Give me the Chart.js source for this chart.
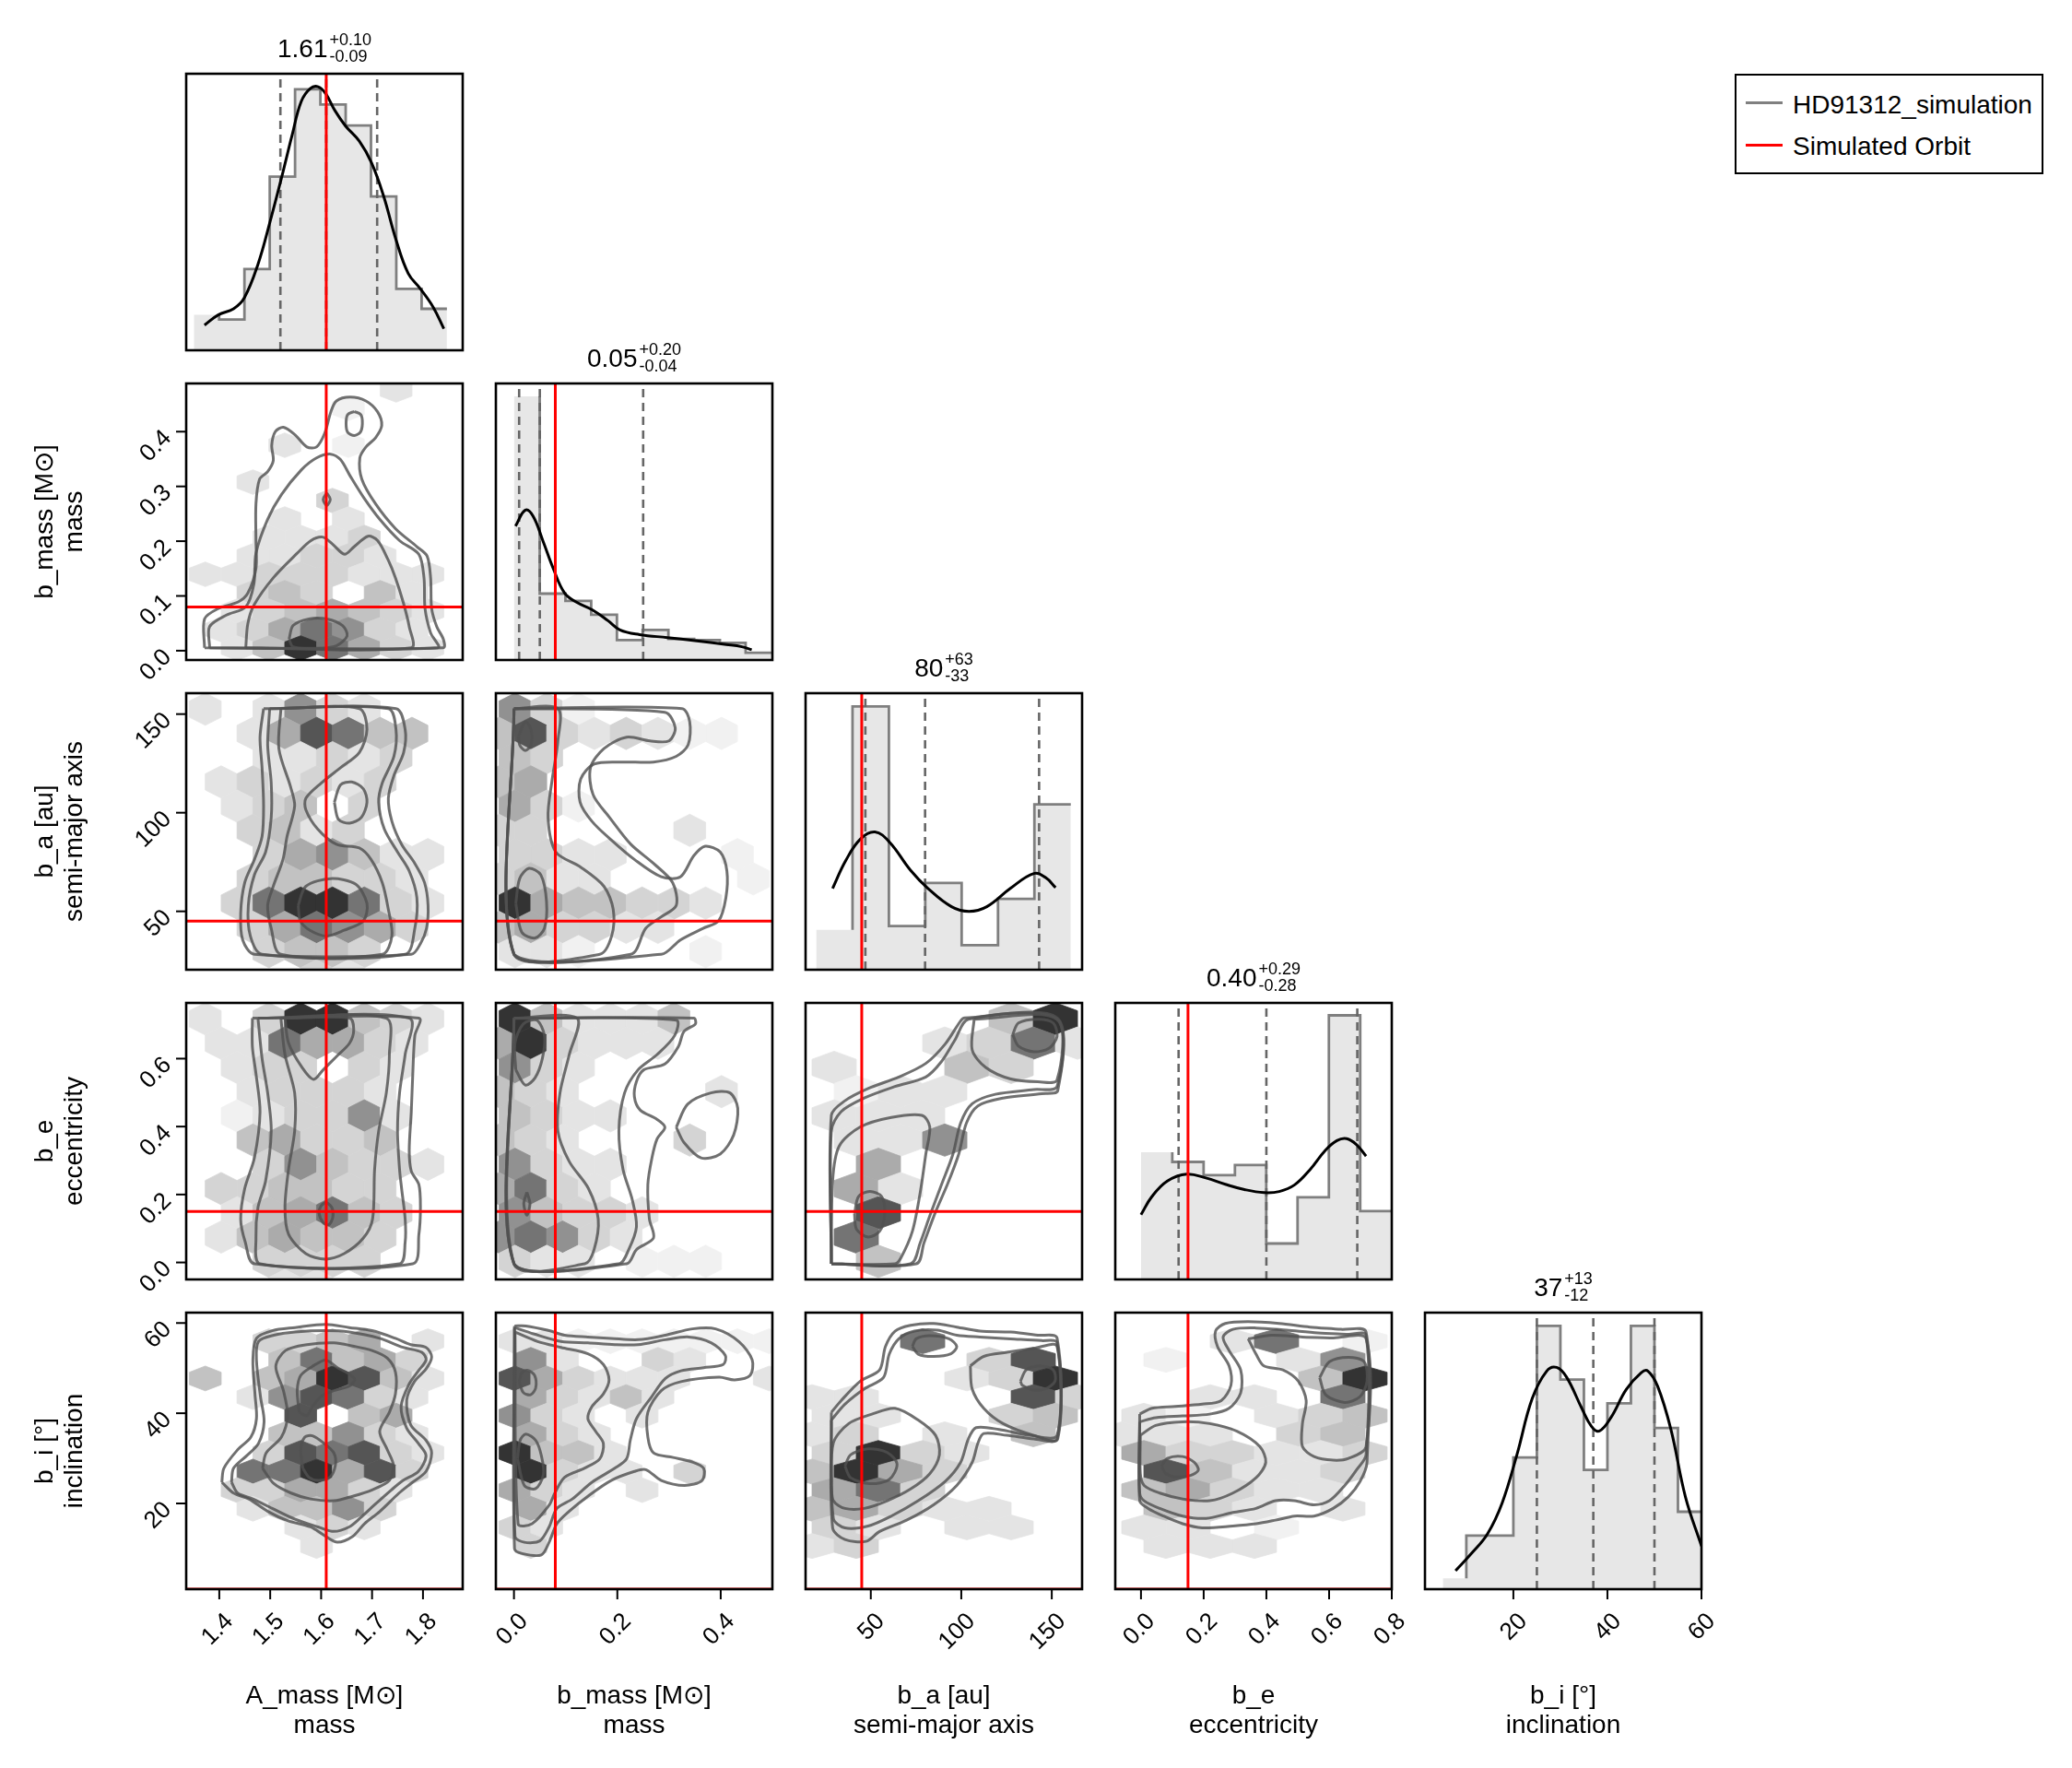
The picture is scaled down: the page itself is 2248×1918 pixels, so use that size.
<!DOCTYPE html>
<html>
<head>
<meta charset="utf-8">
<script src="https://cdn.jsdelivr.net/npm/chart.js@4.4.0/dist/chart.umd.min.js"></script>
<style>
  body { margin: 0; background: #fff; width: 2248px; height: 1918px; position: relative; overflow: hidden;
         font-family: "Liberation Sans", Arial, Helvetica, sans-serif; }
  canvas { position: absolute; }
  #legend { position: absolute; left: 1882px; top: 80px; width: 335px; height: 109px; box-sizing: border-box;
            border: 2px solid #000; background: #fff; }
  #legend .sw { position: absolute; left: 10px; width: 40px; height: 3px; }
  #legend .tx { position: absolute; left: 61px; font-size: 28px; line-height: 34px; white-space: nowrap; color: #000; }
</style>
</head>
<body>
<div id="legend">
  <div class="sw" style="top:28px;background:#808080"></div><div class="tx" style="top:15px">HD91312_simulation</div>
  <div class="sw" style="top:74px;background:#ff0000"></div><div class="tx" style="top:60px">Simulated Orbit</div>
</div>
<script>
// ---- data ----
const labelNames = ['A_mass [M⊙]', 'b_mass [M⊙]', 'b_a [au]', 'b_e', 'b_i [°]']
const labelDescs = ['mass', 'mass', 'semi-major axis', 'eccentricity', 'inclination']

const xRanges = [[1.335, 1.878], [-0.035, 0.5], [13.96, 166.75], [-0.082, 0.8], [1.2, 60]]
const yRanges = [null, [-0.017, 0.488], [20.4, 160.6], [-0.05, 0.764], [1.0, 62.3]]

const xTicks = [[1.4, 1.5, 1.6, 1.7, 1.8], [0, 0.2, 0.4], [50, 100, 150], [0, 0.2, 0.4, 0.6, 0.8], [20, 40, 60]]
const xTickLabels = [['1.4', '1.5', '1.6', '1.7', '1.8'], ['0.0', '0.2', '0.4'], ['50', '100', '150'],
                     ['0.0', '0.2', '0.4', '0.6', '0.8'], ['20', '40', '60']]
const yTicks = [[], [0, 0.1, 0.2, 0.3, 0.4], [50, 100, 150], [0, 0.2, 0.4, 0.6], [20, 40, 60]]
const yTickLabels = [[], ['0.0', '0.1', '0.2', '0.3', '0.4'], ['50', '100', '150'], ['0.0', '0.2', '0.4', '0.6'], ['20', '40', '60']]

const truths = [1.61, 0.08, 45, 0.15, 1.0]
const quantiles = [[1.52, 1.61, 1.71], [0.01, 0.05, 0.25], [47, 80, 143], [0.12, 0.40, 0.69], [25, 37, 50]]
const titleMain = ['1.61', '0.05', '80', '0.40', '37']
const titleUp = ['+0.10', '+0.20', '+63', '+0.29', '+13']
const titleDown = ['-0.09', '-0.04', '-33', '-0.28', '-12']

// histograms (bin start, bin width, heights as fraction of the panel)
const histStart = [1.350, 0.0, 19.8, 0.0, 5]
const histWidth = [0.0497, 0.0498, 20.1, 0.0999, 5]
const histAmass = [0.128, 0.111, 0.294, 0.628, 0.944, 0.889, 0.813, 0.556, 0.222, 0.150]
const histBmass = [0.953, 0.240, 0.214, 0.164, 0.072, 0.109, 0.076, 0.072, 0.062, 0.026]
const histBa = [0.144, 0.952, 0.158, 0.314, 0.089, 0.256, 0.598]
const histBe = [0.460, 0.425, 0.377, 0.414, 0.130, 0.297, 0.955, 0.247]
const histBi = [0.039, 0.194, 0.194, 0.476, 0.952, 0.758, 0.431, 0.672, 0.952, 0.583, 0.280]

const kdeAmass = [[1.371,0.091],[1.398,0.128],[1.428,0.150],[1.449,0.189],[1.476,0.311],[1.500,0.467],[1.522,0.622],
  [1.543,0.778],[1.561,0.900],[1.579,0.947],[1.594,0.953],[1.609,0.928],[1.627,0.867],[1.648,0.811],[1.675,0.756],
  [1.699,0.678],[1.723,0.556],[1.747,0.400],[1.771,0.278],[1.795,0.222],[1.820,0.156],[1.841,0.078]]
const kdeBmass = [[0.003,0.484],[0.022,0.542],[0.037,0.520],[0.056,0.431],[0.076,0.331],[0.098,0.242],[0.121,0.209],
  [0.152,0.181],[0.182,0.142],[0.205,0.109],[0.243,0.092],[0.297,0.081],[0.350,0.070],[0.411,0.056],[0.441,0.048],[0.460,0.037]]
const kdeBa = [[28.9,0.294],[36.1,0.394],[44.2,0.472],[52.3,0.498],[60.4,0.461],[71.8,0.361],[81.6,0.294],[94.6,0.228],
  [104.3,0.211],[114.1,0.228],[127.1,0.294],[140.1,0.348],[146.6,0.333],[152.1,0.297]]
const kdeBe = [[0.000,0.234],[0.035,0.300],[0.084,0.356],[0.146,0.381],[0.207,0.367],[0.269,0.344],[0.330,0.325],
  [0.392,0.314],[0.441,0.318],[0.490,0.342],[0.539,0.397],[0.588,0.467],[0.625,0.502],[0.656,0.509],[0.687,0.488],[0.718,0.446]]
const kdeBi = [[7.7,0.067],[11.3,0.133],[14.5,0.200],[17.6,0.311],[20.8,0.489],[24.0,0.689],[27.1,0.789],[29.2,0.802],
  [31.3,0.767],[34.5,0.656],[36.6,0.589],[38.3,0.572],[40.8,0.622],[44.0,0.722],[47.2,0.783],[48.6,0.789],[50.7,0.733],
  [53.5,0.578],[56.6,0.333],[60.0,0.156]]

// hexbin counts (0-9 shade level, '.' empty); even rows start at xEven, odd rows at xOdd
const hex_1_0 = { xEven: 1.3725, xOdd: 1.3412, dx: 0.06245, y0: 0.4762, dy: 0.03367, rows: [
  '......2..', '.....1....', '.........', '...2.1....', '.........', '..2.......', '....3....', '...2.2....',
  '..2223...', '..22332...', '22333222.', '..343.42..', '.2345432.', '.2357632..', '.2497532.'] }
const hex_2_0 = { xEven: 1.3725, xOdd: 1.3412, dx: 0.06245, y0: 152.5, dy: 12.29, rows: [
  '2.2632...', '..258744..', '..22323..', '.232323...', '.234.3...', '..3423....', '..356422.', '..344332..',
  '.3799732.', '..357653..', '..3443...', '....32....'] }
const hex_2_1 = { xEven: 0.0019, xOdd: -0.0289, dx: 0.0615, y0: 152.5, dy: 12.29, rows: [
  '631......', '48323211..', '43.......', '45........', '531......', '33....2...', '3322...1.', '3422....1.',
  '9544332..', '453322....', '221...1..'] }
const hex_3_0 = { xEven: 1.3725, xOdd: 1.3412, dx: 0.06245, y0: 0.717, dy: 0.07136, rows: [
  '2.399432.', '.2275532..', '.233.32..', '..23332...', '.123362..', '..45334...', '..364332.', '.334433...',
  '.245743..', '.245443...', '..3333...', '...22.....'] }
const hex_3_1 = { xEven: 0.0019, xOdd: -0.0289, dx: 0.0615, y0: 0.717, dy: 0.07136, rows: [
  '942224...', '593222....', '632......', '432....2..', '4322.....', '432...3...', '6322.....', '5732......',
  '64332....', '67632.....', '322.111..'] }
const hex_3_2 = { xEven: 29.75, xOdd: 17.53, dx: 24.45, y0: 0.717, dy: 0.07136, rows: [
  '....49', '...2372', '2..43.', '.122...', '222...', '.226...', '.5....', '.52....', '.8....', '.7.....', '.4....'] }
const hex_4_0 = { xEven: 1.3412, xOdd: 1.3725, dx: 0.06245, y0: 60.09, dy: 4.127, rows: [
  '..........', '..3345.2.', '...47453..', '4.459842.', '..268732..', '...8.45..', '...44632..', '..387832.',
  '..779583..', '.335532..', '..24463...', '...232...', '....2.....'] }
const hex_4_1 = { xEven: -0.0289, xOdd: 0.0019, dx: 0.0615, y0: 60.09, dy: 4.127, rows: [
  '..........', '221111111', '.62..32...', '853222..2', '.53242....', '632.2....', '.532......', '9442.....',
  '.9322.3...', '532.2....', '.52.......', '32.......', '.3........'] }
const hex_4_2 = { xEven: 17.53, xOdd: 29.75, dx: 24.45, y0: 60.09, dy: 4.127, rows: [
  '.......', '..7...', '....38.', '...239', '22...83', '22..34', '23.2.4.', '3932..', '4953...', '573...',
  '45322..', '32.22.', '23.....'] }
const hex_4_3 = { xEven: -0.0614, xOdd: 0.0091, dx: 0.1411, y0: 60.09, dy: 4.127, rows: [
  '.......', '..27.1', '.1..26.', '....49', '..22.7.', '21.234', '222.34.', '533223', '.84223.', '45322.',
  '.432.2.', '22.1..', '.222...'] }

// density contours (closed loops, data units)
const contours_1_0 = [
  [[1.371,0.0055],[1.371,0.058],[1.398,0.077],[1.437,0.089],[1.456,0.105],[1.472,0.150],[1.472,0.201],[1.472,0.268],
   [1.479,0.313],[1.495,0.327],[1.506,0.347],[1.503,0.375],[1.510,0.400],[1.526,0.408],[1.549,0.394],[1.572,0.372],
   [1.591,0.372],[1.607,0.397],[1.619,0.436],[1.630,0.456],[1.657,0.463],[1.688,0.456],[1.711,0.436],[1.719,0.411],
   [1.707,0.389],[1.688,0.372],[1.676,0.352],[1.680,0.313],[1.707,0.268],[1.746,0.223],[1.788,0.190],[1.808,0.173],
   [1.815,0.133],[1.817,0.077],[1.827,0.044],[1.840,0.021],[1.840,0.0055]],
  [[1.381,0.0055],[1.381,0.044],[1.414,0.065],[1.452,0.080],[1.468,0.122],[1.472,0.178],[1.495,0.240],[1.522,0.285],
   [1.561,0.330],[1.591,0.352],[1.619,0.359],[1.638,0.349],[1.657,0.319],[1.684,0.279],[1.715,0.240],[1.754,0.201],
   [1.792,0.176],[1.802,0.133],[1.804,0.077],[1.815,0.0325],[1.829,0.0055]],
  [[1.452,0.0055],[1.456,0.049],[1.468,0.083],[1.506,0.133],[1.553,0.178],[1.580,0.201],[1.603,0.2075],[1.622,0.195],
   [1.646,0.176],[1.665,0.190],[1.692,0.209],[1.711,0.201],[1.731,0.167],[1.746,0.133],[1.761,0.089],[1.773,0.044],
   [1.777,0.0055]],
  [[1.537,0.021],[1.545,0.046],[1.576,0.058],[1.611,0.058],[1.642,0.046],[1.651,0.027],[1.630,0.009],[1.591,0.0045],[1.545,0.007]],
  [[1.665,0.437],[1.678,0.431],[1.681,0.415],[1.677,0.399],[1.665,0.393],[1.652,0.399],[1.649,0.415],[1.652,0.431]],
  [[1.611,0.288],[1.618,0.2765],[1.611,0.265],[1.604,0.2765]]
]
const contours_2_0 = [
  [[1.487,152.8],[1.747,152.8],[1.765,142.2],[1.762,130.5],[1.743,118.9],[1.732,107.3],[1.739,95.6],[1.758,84.0],
   [1.784,74.3],[1.803,64.6],[1.810,53.0],[1.807,41.4],[1.795,33.6],[1.777,28.2],[1.469,28.2],[1.446,35.5],[1.442,49.1],
   [1.450,64.6],[1.469,76.3],[1.484,87.9],[1.487,103.4],[1.484,122.8],[1.480,138.3]],
  [[1.499,152.8],[1.732,152.8],[1.747,142.2],[1.743,128.6],[1.720,115.0],[1.713,105.3],[1.724,91.8],[1.750,80.1],
   [1.773,70.4],[1.788,56.9],[1.784,41.4],[1.765,28.2],[1.484,28.2],[1.461,37.5],[1.457,53.0],[1.469,68.5],[1.491,80.1],
   [1.502,97.6],[1.502,115.0],[1.495,134.4]],
  [[1.521,152.8],[1.675,152.8],[1.690,142.2],[1.675,130.5],[1.638,122.8],[1.600,115.0],[1.570,107.3],[1.570,101.5],
   [1.593,91.8],[1.630,84.0],[1.675,82.1],[1.698,76.3],[1.720,64.6],[1.732,51.0],[1.739,37.5],[1.720,28.2],[1.521,28.2],
   [1.502,41.4],[1.495,53.0],[1.506,62.7],[1.525,76.3],[1.533,87.9],[1.548,103.4],[1.540,113.1],[1.517,132.5]],
  [[1.555,53.0],[1.570,62.7],[1.619,66.6],[1.668,63.7],[1.690,54.0],[1.683,45.2],[1.645,40.4],[1.611,37.5],[1.578,40.4],[1.559,45.2]],
  [[1.626,105.3],[1.638,114.1],[1.660,115.6],[1.683,112.1],[1.690,105.3],[1.679,97.6],[1.656,94.7],[1.634,96.6]]
]
const contours_2_1 = [
  [[0,152.8],[0.325,152.8],[0.340,146.1],[0.337,134.4],[0.314,128.6],[0.270,125.7],[0.211,125.7],[0.155,124.7],
   [0.129,117.0],[0.128,105.3],[0.151,95.6],[0.189,86.0],[0.233,76.3],[0.285,67.5],[0.322,67.5],[0.348,78.2],
   [0.370,83.0],[0.399,80.1],[0.412,70.4],[0.410,56.9],[0.396,45.2],[0.366,41.4],[0.322,35.5],[0.285,28.2],[0,28.2]],
  [[0,152.8],[0.292,150.9],[0.312,143.1],[0.300,136.4],[0.263,136.4],[0.218,138.3],[0.174,132.5],[0.148,122.8],
   [0.153,109.2],[0.185,97.6],[0.226,84.0],[0.270,74.3],[0.307,64.6],[0.314,53.0],[0.285,47.2],[0.255,41.4],[0.226,28.2],[0,28.2]],
  [[0,152.8],[0.085,152.8],[0.085,136.4],[0.074,117.0],[0.066,97.6],[0.081,80.1],[0.129,72.4],[0.174,62.7],
   [0.192,51.0],[0.189,37.5],[0.166,28.2],[0,28.2]],
  [[0.0035,54.0],[0.011,66.6],[0.029,71.8],[0.052,68.5],[0.063,54.9],[0.059,41.4],[0.041,36.5],[0.015,39.4]],
  [[0.009,138.9],[0.022,146.1],[0.033,142.2],[0.033,134.4],[0.022,131.5],[0.011,134.4]]
]
const contours_3_0 = [
  [[1.465,0.719],[1.792,0.719],[1.784,0.668],[1.780,0.556],[1.777,0.443],[1.773,0.330],[1.777,0.269],[1.792,0.229],
   [1.795,0.162],[1.792,0.083],[1.780,-0.004],[1.469,-0.004],[1.451,0.060],[1.442,0.128],[1.450,0.218],[1.469,0.308],
   [1.480,0.443],[1.472,0.556],[1.465,0.635]],
  [[1.476,0.719],[1.773,0.719],[1.765,0.612],[1.754,0.499],[1.750,0.387],[1.754,0.274],[1.758,0.218],[1.765,0.128],
   [1.765,0.060],[1.754,-0.004],[1.480,-0.004],[1.472,0.072],[1.476,0.162],[1.491,0.240],[1.502,0.387],[1.495,0.499],[1.484,0.601]],
  [[1.521,0.719],[1.529,0.612],[1.548,0.499],[1.548,0.387],[1.536,0.274],[1.529,0.162],[1.536,0.083],[1.570,0.026],
   [1.608,0.010],[1.645,0.026],[1.683,0.072],[1.701,0.128],[1.705,0.274],[1.713,0.387],[1.728,0.499],[1.734,0.612],[1.728,0.719]],
  [[1.529,0.719],[1.536,0.646],[1.563,0.573],[1.585,0.539],[1.604,0.567],[1.630,0.606],[1.656,0.646],[1.664,0.685],[1.656,0.719]],
  [[1.610,0.178],[1.621,0.162],[1.623,0.133],[1.615,0.111],[1.604,0.117],[1.596,0.145],[1.600,0.167]]
]
const contours_3_1 = [
  [[0,0.719],[0.348,0.719],[0.351,0.702],[0.329,0.680],[0.318,0.635],[0.292,0.584],[0.251,0.567],[0.237,0.533],
   [0.233,0.488],[0.244,0.449],[0.277,0.421],[0.292,0.398],[0.277,0.364],[0.267,0.308],[0.259,0.229],[0.262,0.128],
   [0.270,0.072],[0.237,0.038],[0.218,-0.004],[0,-0.004]],
  [[0,0.719],[0.314,0.713],[0.311,0.668],[0.277,0.612],[0.240,0.567],[0.214,0.499],[0.203,0.387],[0.211,0.274],
   [0.229,0.184],[0.237,0.105],[0.222,0.038],[0.203,-0.004],[0,-0.004]],
  [[0,0.719],[0.122,0.719],[0.107,0.612],[0.089,0.499],[0.085,0.387],[0.107,0.297],[0.144,0.218],[0.163,0.128],
   [0.155,0.038],[0.137,-0.004],[0,-0.004]],
  [[0.0035,0.567],[0.002,0.646],[0.018,0.702],[0.044,0.713],[0.059,0.668],[0.055,0.601],[0.041,0.544],[0.022,0.522]],
  [[0.314,0.398],[0.336,0.466],[0.381,0.499],[0.418,0.499],[0.433,0.454],[0.425,0.375],[0.399,0.319],[0.362,0.308],[0.329,0.353]],
  [[0.025,0.207],[0.031,0.173],[0.025,0.139],[0.019,0.173]]
]
const contours_3_2 = [
  [[28.2,-0.004],[28.2,0.433],[35.7,0.476],[48.5,0.512],[65.5,0.546],[80.4,0.586],[91.1,0.643],[99.6,0.711],[101.8,0.720],
   [152.9,0.720],[153.3,0.506],[144.4,0.497],[123.1,0.484],[109.2,0.461],[102.8,0.410],[98.6,0.319],[92.2,0.228],
   [85.8,0.149],[79.4,0.058],[75.1,-0.004]],
  [[28.2,-0.004],[28.2,0.387],[33.6,0.444],[46.4,0.484],[63.4,0.518],[80.4,0.546],[89.0,0.591],[96.4,0.654],[103.9,0.716],
   [152.9,0.716],[152.9,0.518],[140.1,0.509],[118.8,0.495],[106.0,0.467],[99.6,0.410],[95.4,0.319],[89.0,0.228],
   [82.6,0.137],[77.3,0.058],[72.0,-0.004]],
  [[28.2,-0.004],[28.9,0.240],[32.5,0.342],[44.2,0.399],[61.3,0.427],[78.3,0.433],[82.6,0.399],[80.4,0.319],[77.3,0.206],
   [73.0,0.092],[66.6,0.013],[63.4,-0.004]],
  [[107.1,0.716],[106.0,0.626],[113.5,0.574],[127.3,0.540],[142.3,0.532],[152.9,0.537],[152.9,0.716]],
  [[128.4,0.671],[131.6,0.705],[142.3,0.716],[150.8,0.705],[152.9,0.665],[148.6,0.631],[140.1,0.620],[131.6,0.637]],
  [[41.0,0.143],[43.2,0.194],[49.5,0.209],[56.0,0.194],[57.7,0.143],[54.9,0.092],[48.5,0.075],[42.1,0.098]]
]
const contours_4_0 = [
  [[1.405,24.7],[1.409,27.8],[1.436,31.9],[1.462,34.7],[1.473,38.8],[1.470,44.3],[1.466,51.8],[1.473,56.6],[1.504,58.3],
   [1.549,59.0],[1.609,59.7],[1.655,59.0],[1.700,58.3],[1.746,56.6],[1.776,55.2],[1.806,54.6],[1.817,52.5],[1.806,49.8],
   [1.783,47.0],[1.768,42.9],[1.776,37.4],[1.806,34.0],[1.817,31.2],[1.806,27.1],[1.776,24.4],[1.753,22.3],[1.715,18.2],
   [1.685,15.5],[1.662,12.7],[1.632,11.4],[1.609,12.7],[1.579,14.8],[1.534,16.2],[1.496,18.2],[1.458,21.0],[1.428,22.3]],
  [[1.424,24.7],[1.428,27.8],[1.454,30.6],[1.477,33.3],[1.488,38.1],[1.481,43.6],[1.473,51.8],[1.477,55.9],[1.507,57.3],
   [1.549,58.0],[1.609,58.3],[1.655,58.0],[1.715,56.6],[1.761,54.6],[1.798,53.5],[1.806,51.8],[1.791,49.4],[1.772,46.3],
   [1.757,41.5],[1.768,36.7],[1.791,33.3],[1.806,30.6],[1.791,27.1],[1.761,25.1],[1.738,23.0],[1.704,19.6],[1.677,16.8],
   [1.655,14.8],[1.625,13.8],[1.594,14.8],[1.549,16.5],[1.504,18.9],[1.466,21.0],[1.436,22.3]],
  [[1.485,27.8],[1.492,31.2],[1.522,34.7],[1.534,39.5],[1.526,45.0],[1.511,50.4],[1.530,53.9],[1.572,55.2],[1.625,55.6],
   [1.662,54.9],[1.700,53.9],[1.730,52.2],[1.746,49.1],[1.746,44.3],[1.734,40.2],[1.715,36.0],[1.730,31.9],[1.742,28.5],
   [1.734,25.1],[1.700,23.0],[1.662,21.6],[1.625,20.6],[1.579,21.0],[1.541,22.3],[1.507,24.4]],
  [[1.557,40.2],[1.553,45.0],[1.560,48.4],[1.583,50.4],[1.609,51.8],[1.632,50.1],[1.655,48.7],[1.666,47.4],[1.655,46.0],
   [1.625,45.0],[1.602,43.9],[1.583,41.5],[1.572,39.5]],
  [[1.564,27.8],[1.560,32.0],[1.568,34.7],[1.583,35.0],[1.606,33.3],[1.625,31.2],[1.628,28.5],[1.617,25.8],[1.594,25.1],[1.576,25.8]]
]
const contours_4_1 = [
  [[0.001,59.35],[0.023,59.35],[0.068,58.3],[0.098,57.3],[0.143,56.9],[0.188,56.6],[0.240,56.3],[0.293,57.3],[0.345,58.7],
   [0.390,58.7],[0.435,55.9],[0.461,51.8],[0.457,48.4],[0.427,47.4],[0.397,48.0],[0.323,47.0],[0.285,45.0],[0.259,40.2],
   [0.259,34.7],[0.270,31.2],[0.308,30.2],[0.345,29.2],[0.367,27.8],[0.364,25.1],[0.330,24.0],[0.285,25.1],[0.255,27.5],
   [0.233,27.1],[0.188,25.1],[0.143,21.6],[0.106,18.2],[0.083,15.5],[0.068,11.4],[0.053,8.6],[0.016,8.9],[0.001,10.0]],
  [[0.001,59.0],[0.038,57.6],[0.091,55.9],[0.143,55.6],[0.195,55.2],[0.240,55.2],[0.293,56.3],[0.338,56.9],[0.382,55.6],
   [0.409,52.8],[0.405,50.8],[0.367,50.1],[0.323,49.4],[0.293,47.7],[0.266,43.6],[0.237,38.8],[0.225,34.0],[0.218,29.9],
   [0.195,27.8],[0.151,24.7],[0.113,21.0],[0.083,18.9],[0.068,14.8],[0.050,11.7],[0.020,11.4],[0.002,12.7]],
  [[0.002,58.0],[0.046,55.9],[0.091,54.6],[0.143,53.2],[0.173,50.8],[0.184,47.4],[0.173,44.3],[0.151,41.5],[0.143,38.8],
   [0.158,36.0],[0.173,33.3],[0.166,29.9],[0.136,27.8],[0.098,25.8],[0.079,22.3],[0.068,19.6],[0.035,15.5],[0.008,15.5]],
  [[0.010,47.0],[0.016,49.1],[0.027,49.5],[0.040,48.4],[0.042,45.6],[0.032,44.1],[0.018,44.6]],
  [[0.007,29.9],[0.012,34.0],[0.023,35.4],[0.042,34.0],[0.053,30.6],[0.057,26.4],[0.042,23.3],[0.020,24.0]]
]
const contours_4_2 = [
  [[28.2,40.2],[33.6,42.8],[44.2,47.1],[54.9,49.6],[58.1,54.8],[63.4,58.2],[72.0,59.5],[84.7,59.9],[97.5,59.1],[110.3,58.2],
   [127.3,58.0],[142.3,57.3],[152.9,56.7],[153.3,34.3],[140.1,34.3],[125.2,35.1],[112.4,35.5],[109.2,33.4],[106.0,29.1],
   [97.5,24.0],[84.7,19.7],[69.8,16.3],[54.9,13.8],[47.4,11.6],[35.7,12.0],[28.9,14.6]],
  [[28.2,38.5],[35.7,42.0],[46.4,45.4],[57.0,47.9],[60.2,53.1],[65.5,56.5],[74.1,58.2],[86.8,58.4],[97.5,57.3],[110.3,56.9],
   [127.3,56.5],[144.4,56.1],[152.9,55.6],[152.9,35.1],[138.0,35.1],[120.9,36.4],[108.2,36.8],[103.9,34.3],[99.6,29.1],
   [91.1,24.9],[76.2,20.6],[61.3,17.2],[48.5,15.0],[35.7,14.6],[29.3,16.7]],
  [[28.2,24.0],[29.3,33.4],[37.8,37.7],[50.6,39.8],[63.4,41.1],[76.2,38.5],[85.8,35.1],[87.9,30.8],[82.6,26.6],[72.0,23.2],
   [59.1,20.6],[46.4,18.9],[35.7,18.9],[29.3,20.6]],
  [[105.0,50.5],[112.4,52.6],[125.2,53.5],[140.1,54.4],[152.9,54.8],[152.9,34.3],[140.1,35.1],[123.1,37.7],[112.4,41.1],[106.0,45.4]],
  [[73.0,54.8],[75.1,56.5],[82.6,57.2],[93.2,56.5],[97.5,54.8],[94.3,53.2],[84.7,52.6],[76.2,53.1]],
  [[132.7,47.1],[135.9,49.6],[143.3,50.5],[150.8,49.6],[151.8,47.1],[146.5,45.4],[139.1,45.2],[133.7,46.2]],
  [[35.7,28.3],[38.9,30.8],[48.5,32.1],[59.1,31.3],[64.5,28.7],[60.2,25.3],[49.5,24.4],[38.9,25.7]]
]
const contours_4_3 = [
  [[-0.004,39.8],[0.035,41.1],[0.109,41.5],[0.195,42.0],[0.256,42.8],[0.287,46.2],[0.281,50.5],[0.244,54.8],[0.238,58.2],
   [0.269,59.9],[0.342,60.3],[0.441,59.9],[0.539,59.1],[0.638,58.6],[0.718,58.0],[0.721,29.1],[0.699,24.9],[0.662,21.5],
   [0.613,18.9],[0.552,17.2],[0.490,17.2],[0.429,16.3],[0.367,15.5],[0.293,15.0],[0.195,14.6],[0.133,15.5],[0.072,17.2],
   [0.023,18.9],[-0.004,20.6]],
  [[-0.004,38.1],[0.047,39.0],[0.133,39.4],[0.219,39.8],[0.281,41.1],[0.318,44.5],[0.318,49.6],[0.281,53.9],[0.262,56.9],
   [0.293,58.6],[0.367,58.9],[0.465,58.4],[0.564,57.8],[0.662,57.5],[0.718,57.3],[0.718,30.8],[0.687,27.4],[0.650,24.0],
   [0.601,20.6],[0.552,19.7],[0.490,20.6],[0.429,20.6],[0.367,18.9],[0.293,18.0],[0.207,16.7],[0.133,17.2],[0.060,18.9],
   [0.010,20.6],[-0.004,22.3]],
  [[-0.002,35.1],[0.047,37.3],[0.133,38.1],[0.219,37.7],[0.306,36.0],[0.379,32.6],[0.398,29.1],[0.367,25.7],[0.293,22.3],
   [0.219,20.6],[0.133,21.0],[0.060,22.3],[0.010,24.0],[-0.002,26.6]],
  [[0.342,56.5],[0.416,57.3],[0.515,56.9],[0.613,56.7],[0.718,56.5],[0.718,32.6],[0.662,30.0],[0.613,29.6],[0.552,30.4],
   [0.515,32.6],[0.515,37.7],[0.527,42.8],[0.502,47.1],[0.453,49.6],[0.392,50.5],[0.367,53.1]],
  [[0.570,47.9],[0.601,51.4],[0.662,52.4],[0.712,51.4],[0.721,47.1],[0.699,43.7],[0.650,42.4],[0.589,44.1]],
  [[0.066,28.3],[0.084,30.0],[0.133,30.4],[0.170,29.1],[0.183,27.4],[0.158,26.2],[0.109,25.9],[0.078,26.7]]
]

const hists = [histAmass, histBmass, histBa, histBe, histBi]
const kdes = [kdeAmass, kdeBmass, kdeBa, kdeBe, kdeBi]
const panelHex = { '1,0': hex_1_0, '2,0': hex_2_0, '2,1': hex_2_1, '3,0': hex_3_0, '3,1': hex_3_1, '3,2': hex_3_2,
                   '4,0': hex_4_0, '4,1': hex_4_1, '4,2': hex_4_2, '4,3': hex_4_3 }
const panelContours = { '1,0': contours_1_0, '2,0': contours_2_0, '2,1': contours_2_1, '3,0': contours_3_0,
                        '3,1': contours_3_1, '3,2': contours_3_2, '4,0': contours_4_0, '4,1': contours_4_1,
                        '4,2': contours_4_2, '4,3': contours_4_3 }

// ---- layout ----
const FONT = '"Liberation Sans", Arial, Helvetica, sans-serif'
const PANEL_W = 300, PANEL_H = 300
const colLeft = [202, 538, 874, 1210, 1546]
const rowTop = [80, 416, 752, 1088, 1424]
const PAGE_H = 1918
const hexShades = [null, '#f1f1f1', '#e4e4e4', '#d4d4d4', '#c2c2c2', '#ababab', '#919191', '#747474', '#555555', '#333333']

const toPts = arr => arr.map(p => ({ x: p[0], y: p[1] }))
const closed = poly => poly.concat([poly[0]])

function lineSet(pts, color, width, extra) {
  return Object.assign({ data: pts, showLine: true, borderColor: color, borderWidth: width,
                         pointRadius: 0, fill: false, tension: 0 }, extra || {})
}

function rotatedText(ctx, text, x, y, angle, align, baseline) {
  ctx.save()
  ctx.translate(x, y)
  ctx.rotate(angle)
  ctx.textAlign = align
  ctx.textBaseline = baseline
  ctx.fillText(text, 0, 0)
  ctx.restore()
}

function hexPlugin(grid) {
  return {
    id: 'hexbins',
    beforeDatasetsDraw(chart) {
      const { ctx, chartArea: a, scales: { x, y } } = chart
      const w = Math.abs(x.getPixelForValue(grid.xEven + grid.dx) - x.getPixelForValue(grid.xEven))
      const step = Math.abs(y.getPixelForValue(grid.y0) - y.getPixelForValue(grid.y0 - grid.dy))
      const hw = w / 2, hr = step * 2 / 3
      ctx.save()
      ctx.beginPath(); ctx.rect(a.left, a.top, a.width, a.height); ctx.clip()
      grid.rows.forEach((row, r) => {
        const base = r % 2 === 0 ? grid.xEven : grid.xOdd
        const py = y.getPixelForValue(grid.y0 - r * grid.dy)
        for (let k = 0; k < row.length; k++) {
          if (row[k] === '.') continue
          const px = x.getPixelForValue(base + k * grid.dx)
          ctx.beginPath()
          ctx.moveTo(px, py - hr)
          ctx.lineTo(px + hw, py - hr / 2)
          ctx.lineTo(px + hw, py + hr / 2)
          ctx.lineTo(px, py + hr)
          ctx.lineTo(px - hw, py + hr / 2)
          ctx.lineTo(px - hw, py - hr / 2)
          ctx.closePath()
          ctx.fillStyle = hexShades[+row[k]]
          ctx.strokeStyle = hexShades[+row[k]]
          ctx.lineWidth = 0.8
          ctx.fill(); ctx.stroke()
        }
      })
      ctx.restore()
    }
  }
}

function decorPlugin(r, c) {
  return {
    id: 'decor',
    afterDraw(chart) {
      const { ctx, chartArea: a, scales } = chart
      ctx.save()
      ctx.fillStyle = '#000'
      ctx.strokeStyle = '#000'
      ctx.lineWidth = 2
      if (r === 4) {
        ctx.font = '26px ' + FONT
        xTicks[c].forEach((v, i) => {
          const px = scales.x.getPixelForValue(v)
          ctx.beginPath(); ctx.moveTo(px, a.bottom); ctx.lineTo(px, a.bottom + 11); ctx.stroke()
          rotatedText(ctx, xTickLabels[c][i], px + 11, a.bottom + 31, -Math.PI / 4, 'right', 'middle')
        })
        ctx.font = '28px ' + FONT
        ctx.textAlign = 'center'
        ctx.textBaseline = 'alphabetic'
        const cx = (a.left + a.right) / 2
        ctx.fillText(labelNames[c], cx, a.bottom + 124)
        ctx.fillText(labelDescs[c], cx, a.bottom + 156)
      }
      if (c === 0 && r > 0) {
        ctx.font = '26px ' + FONT
        yTicks[r].forEach((v, i) => {
          const py = scales.y.getPixelForValue(v)
          ctx.beginPath(); ctx.moveTo(a.left - 11, py); ctx.lineTo(a.left, py); ctx.stroke()
          rotatedText(ctx, yTickLabels[r][i], a.left - 20, py + 3, -Math.PI / 4, 'right', 'middle')
        })
        ctx.font = '28px ' + FONT
        const cy = (a.top + a.bottom) / 2
        rotatedText(ctx, labelNames[r], a.left - 145, cy, -Math.PI / 2, 'center', 'alphabetic')
        rotatedText(ctx, labelDescs[r], a.left - 113, cy, -Math.PI / 2, 'center', 'alphabetic')
      }
      if (r === c) {
        ctx.font = '28px ' + FONT
        const wm = ctx.measureText(titleMain[c]).width
        ctx.font = '18px ' + FONT
        const ws = Math.max(ctx.measureText(titleUp[c]).width, ctx.measureText(titleDown[c]).width)
        const x0 = (a.left + a.right) / 2 - (wm + 2 + ws) / 2
        ctx.textAlign = 'left'
        ctx.textBaseline = 'alphabetic'
        ctx.font = '28px ' + FONT
        ctx.fillText(titleMain[c], x0, a.top - 18)
        ctx.font = '18px ' + FONT
        ctx.fillText(titleUp[c], x0 + wm + 2, a.top - 31)
        ctx.fillText(titleDown[c], x0 + wm + 2, a.top - 13)
      }
      ctx.lineWidth = 2.6
      ctx.strokeRect(a.left, a.top, a.width, a.height)
      ctx.restore()
    }
  }
}

function diagDatasets(i) {
  const counts = hists[i]
  const edge = k => histStart[i] + k * histWidth[i]
  const n = counts.length
  const fillPts = counts.map((h, k) => ({ x: edge(k), y: h })).concat([{ x: edge(n), y: counts[n - 1] }])
  const stepPts = [{ x: edge(1), y: counts[0] }]
    .concat(counts.slice(1).map((h, k) => ({ x: edge(k + 1), y: h })))
    .concat([{ x: edge(n), y: counts[n - 1] }])
  const t = truths[i]
  return [
    lineSet([{ x: t, y: 0 }, { x: t, y: 1 }], '#ff0000', 3),
    lineSet(toPts(kdes[i]), '#000000', 3, { tension: 0.4 }),
    ...quantiles[i].map(q => lineSet([{ x: q, y: 0 }, { x: q, y: 1 }], '#666666', 2.6, { borderDash: [9, 6] })),
    lineSet(stepPts, '#7f7f7f', 2.8, { stepped: true }),
    lineSet(fillPts, 'rgba(0,0,0,0)', 0, { stepped: true, fill: 'origin', backgroundColor: '#e7e7e7' })
  ]
}

function pairDatasets(r, c) {
  const xr = xRanges[c], yr = yRanges[r]
  const sets = [
    lineSet([{ x: truths[c], y: yr[0] }, { x: truths[c], y: yr[1] }], '#ff0000', 3),
    lineSet([{ x: xr[0], y: truths[r] }, { x: xr[1], y: truths[r] }], '#ff0000', 3)
  ]
  panelContours[r + ',' + c].forEach(poly => {
    sets.push(lineSet(toPts(closed(poly)), 'rgba(80,80,80,0.82)', 3, { tension: 0.3 }))
  })
  return sets
}

function addPanel(r, c) {
  const diag = r === c
  const padL = c === 0 ? colLeft[0] : 8
  const padR = r === 4 ? 40 : 8
  const padT = diag ? 80 : 8
  const padB = r === 4 ? PAGE_H - rowTop[4] - PANEL_H : (c === 0 ? 36 : 8)
  const cv = document.createElement('canvas')
  cv.width = PANEL_W + padL + padR
  cv.height = PANEL_H + padT + padB
  cv.style.left = (colLeft[c] - padL) + 'px'
  cv.style.top = (rowTop[r] - padT) + 'px'
  cv.style.width = cv.width + 'px'
  cv.style.height = cv.height + 'px'
  document.body.appendChild(cv)

  const plugins = [decorPlugin(r, c)]
  if (!diag) plugins.unshift(hexPlugin(panelHex[r + ',' + c]))

  new Chart(cv, {
    type: 'scatter',
    data: { datasets: diag ? diagDatasets(c) : pairDatasets(r, c) },
    options: {
      responsive: false,
      animation: false,
      devicePixelRatio: 1,
      events: [],
      layout: { padding: { left: padL, right: padR, top: padT, bottom: padB } },
      elements: { point: { radius: 0 } },
      scales: {
        x: { type: 'linear', display: false, min: xRanges[c][0], max: xRanges[c][1] },
        y: { type: 'linear', display: false, min: diag ? 0 : yRanges[r][0], max: diag ? 1 : yRanges[r][1] }
      },
      plugins: { legend: { display: false }, tooltip: { enabled: false } }
    },
    plugins: plugins
  })
}

for (let r = 0; r < 5; r++) {
  for (let c = 0; c <= r; c++) addPanel(r, c)
}
</script>
</body>
</html>
